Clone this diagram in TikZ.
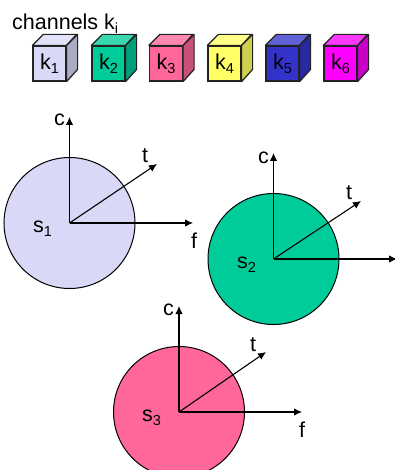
\documentclass[tikz,border=0pt]{standalone}
\usepackage{fontspec}
\setmainfont{Liberation Sans}
\usetikzlibrary{arrows.meta}
\newcommand{\lbl}[2]{#1\raisebox{-4pt}{\fontsize{14.5}{15}\selectfont #2}}
\newcommand{\cubebox}[5]{%
  \node[front, fill=#3] (#1) at (#2,63.5) {\lbl{k}{#5}};
  \fill[fill=#3!78!white, draw=cubeline, line width=1.2pt, line join=round] (#1.north west) -- ++(11,-11) -- ++(33,0) -- (#1.north east) -- cycle;
  \fill[fill=#4, draw=cubeline, line width=1.2pt, line join=round] (#1.north east) -- ++(11,-11) -- ++(0,35) -- (#1.south east) -- cycle;
  \node[front, fill=#3] at (#1) {\lbl{k}{#5}};
}
\newcommand{\axes}[8]{%
  % name, x, y, fill, sub, tx, ty, fx
  \node[disc, fill=#4] (#1) at (#2,#3) {};
  \coordinate (#1c) at (#2,#3-106);
  \coordinate (#1f) at (#8,#3);
  \coordinate (#1t) at (#6,#7);
  \draw[axis] (#1.center) -- (#1c);
  \draw[axis] (#1.center) -- (#1f);
  \draw[axis] (#1.center) -- (#1t);
}
\definecolor{cubeline}{HTML}{222222}
\definecolor{cA}{HTML}{D9D9F7}
\definecolor{cAs}{HTML}{ABABC2}
\definecolor{cB}{HTML}{00CC99}
\definecolor{cBs}{HTML}{00A07A}
\definecolor{cC}{HTML}{FF6699}
\definecolor{cCs}{HTML}{C8507A}
\definecolor{cD}{HTML}{FFFF66}
\definecolor{cDs}{HTML}{CFCF50}
\definecolor{cE}{HTML}{3333CC}
\definecolor{cEs}{HTML}{2828A0}
\definecolor{cF}{HTML}{FF00FF}
\definecolor{cFs}{HTML}{C800C8}
\tikzset{
  front/.style={draw=cubeline, line width=1.2pt, minimum width=33pt, minimum height=35pt, inner sep=0pt, font=\fontsize{21.5}{23}\selectfont, text=black},
  disc/.style={circle, draw=black, line width=1pt, minimum size=131pt, inner sep=0pt},
  axis/.style={line width=1.1pt, -{Latex[length=8pt,width=7.5pt]}},
  txt/.style={anchor=base west, inner sep=0pt, font=\fontsize{21.5}{23}\selectfont, text=black}
}
\begin{document}
\begin{tikzpicture}[x=1pt,y=-1pt]
\useasboundingbox (0,0) rectangle (395,470);
\clip (0,0) rectangle (395,470);
\fill[white] (0,0) rectangle (395,470);
\node[txt] (title) at (12,30) {\lbl{channels k}{i}};
\cubebox{k1}{49.5}{cA}{cAs}{1}
\cubebox{k2}{108.5}{cB}{cBs}{2}
\cubebox{k3}{166}{cC}{cCs}{3}
\cubebox{k4}{224.5}{cD}{cDs}{4}
\cubebox{k5}{282.5}{cE}{cEs}{5}
\cubebox{k6}{340.5}{cF}{cFs}{6}
\axes{s1}{69.5}{223}{cA}{1}{157}{164}{193}
\axes{s2}{273.5}{259}{cB}{2}{361}{201}{397}
\axes{s3}{179}{412}{cC}{3}{266}{352}{302}
\node[txt] (sl1) at (33,232) {\lbl{s}{1}};
\node[txt] (cl1) at (54,126) {c};
\node[txt] (tl1) at (142,163) {t};
\node[txt] (fl1) at (191,248) {f};
\node[txt] (sl2) at (237,268) {\lbl{s}{2}};
\node[txt] (cl2) at (258,164) {c};
\node[txt] (tl2) at (346,199) {t};
\node[txt] (fl2) at (395,284) {f};
\node[txt] (sl3) at (142,421) {\lbl{s}{3}};
\node[txt] (cl3) at (163,315) {c};
\node[txt] (tl3) at (250,351) {t};
\node[txt] (fl3) at (299,437) {f};
\end{tikzpicture}
\end{document}
